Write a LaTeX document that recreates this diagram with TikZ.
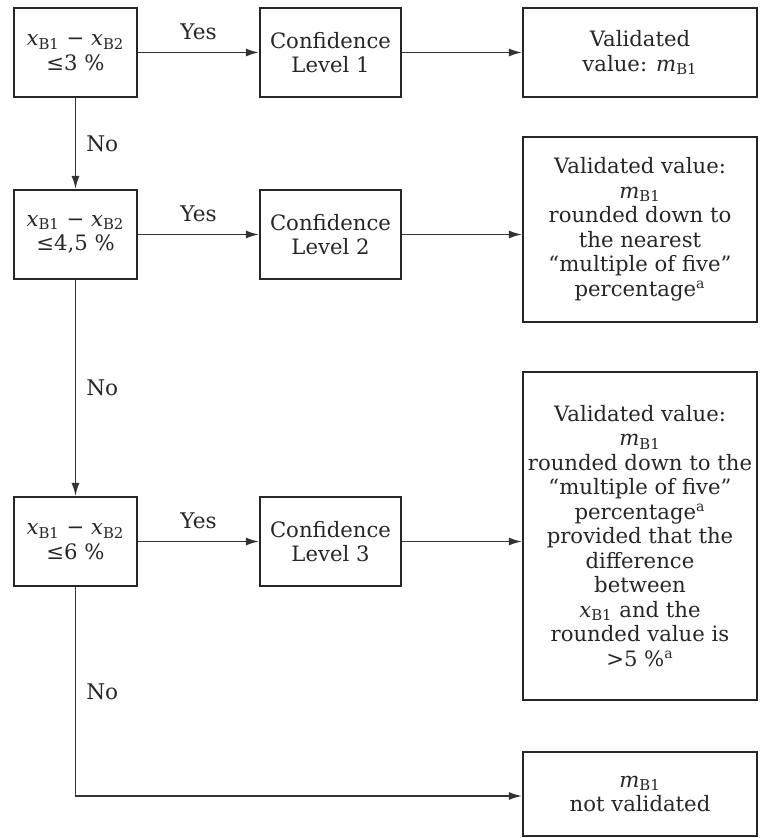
\documentclass[tikz,border=0pt]{standalone}
\usepackage{fontspec}
\setmainfont{DejaVu Serif}
\usetikzlibrary{arrows.meta}
\newcommand\xb[1]{\textit{x}\textsubscript{B#1}}
\newcommand\mb{\textit{m}\textsubscript{B1}}
\newcommand\supa{\textsuperscript{\scriptsize a}}
\begin{document}
\begin{tikzpicture}[x=0.5pt,y=-0.5pt,
  box/.style={draw=black!85, line width=1.1pt, align=center, inner sep=0pt,
    font=\fontsize{10.6}{12.25}\selectfont, text=black!85},
  conn/.style={draw=black!80, line width=0.75pt, -{Latex[length=6.5pt,width=4pt]}},
  lbl/.style={font=\fontsize{10.8}{12.25}\selectfont, text=black!85, inner sep=0pt}]
\useasboundingbox (0,0) rectangle (759,838);
% decisions
\node[box, minimum width=61.5pt, minimum height=44.5pt] (a1) at (75.5,52.5) {\xb1 − \xb2\\≤3 \%};
\node[box, minimum width=61.5pt, minimum height=44.5pt] (a2) at (75.5,234.5) {\xb1 − \xb2\\≤4,5 \%};
\node[box, minimum width=61.5pt, minimum height=44.5pt] (a3) at (75.5,541.5) {\xb1 − \xb2\\≤6 \%};
% confidence
\node[box, minimum width=70.5pt, minimum height=44.5pt] (c1) at (330.5,52.5) {Confidence\\Level 1};
\node[box, minimum width=70.5pt, minimum height=44.5pt] (c2) at (330.5,234.5) {Confidence\\Level 2};
\node[box, minimum width=70.5pt, minimum height=44.5pt] (c3) at (330.5,541.5) {Confidence\\Level 3};
% results
\node[box, minimum width=117pt, minimum height=44.5pt] (v1) at (640,52.5) {Validated\\value: \mb};
\node[box, minimum width=117pt, minimum height=92.5pt] (v2) at (640,229.5)
  {Validated value:\\\mb\\rounded down to\\the nearest\\“multiple of five”\\percentage\supa};
\node[box, minimum width=117pt, minimum height=164pt] (v3) at (640,536)
  {Validated value:\\\mb\\rounded down to the\\“multiple of five”\\percentage\supa\\provided that the\\difference\\between\\\xb1 and the\\rounded value is\\>5 \%\supa};
\node[box, minimum width=117pt, minimum height=42pt] (v4) at (640,794) {\mb\\not validated};
% connectors
\draw[conn] (a1) -- node[lbl, above=6pt]{Yes} (c1);
\draw[conn] (a2) -- node[lbl, above=6pt]{Yes} (c2);
\draw[conn] (a3) -- node[lbl, above=6pt]{Yes} (c3);
\draw[conn] (c1) -- (v1.west |- c1.east);
\draw[conn] (c2) -- (v2.west |- c2.east);
\draw[conn] (c3) -- (v3.west |- c3.east);
\draw[conn] (a1) -- node[lbl, right=5pt]{No} (a2);
\draw[conn] (a2) -- node[lbl, right=5pt]{No} (a3);
\coordinate (corner) at (a3.south |- 0,796);
\draw[conn] (a3.south) -- node[lbl, right=5pt]{No} (corner) -- (v4.west |- corner);
\end{tikzpicture}
\end{document}
